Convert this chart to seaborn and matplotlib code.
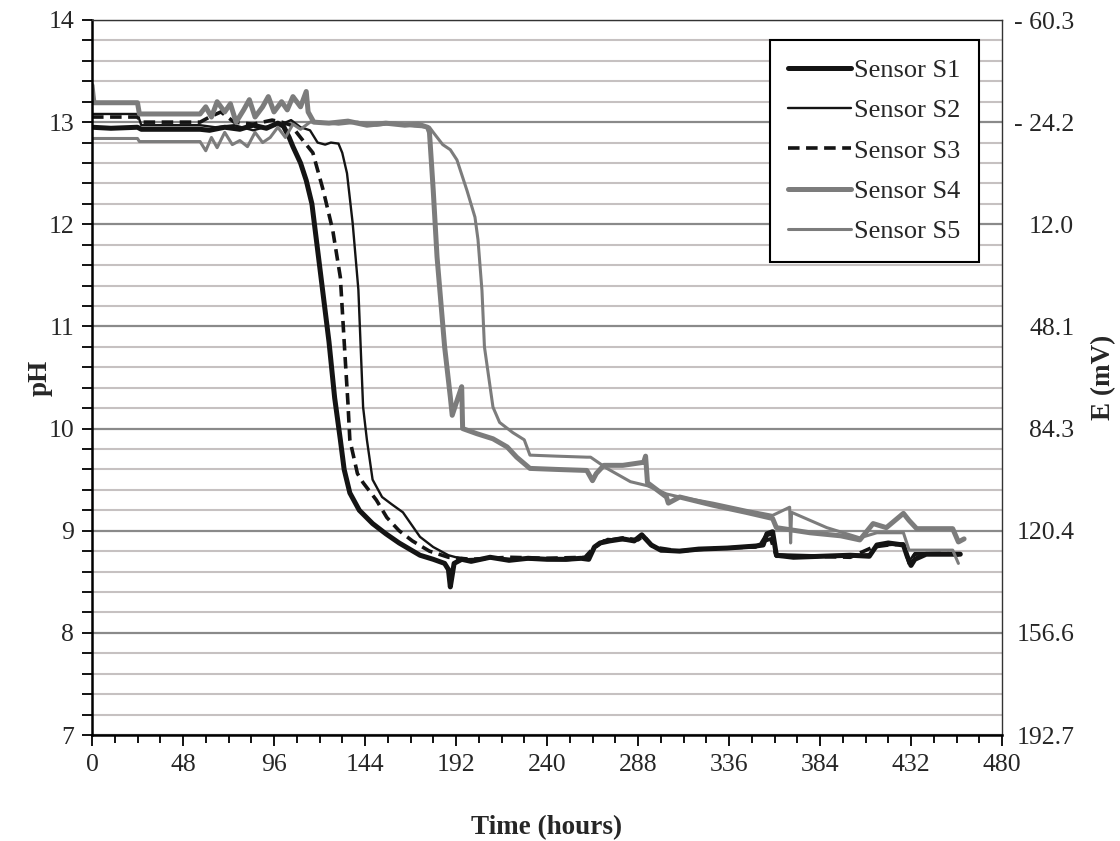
import matplotlib
matplotlib.use('Agg')
import matplotlib.pyplot as plt
from matplotlib.ticker import MultipleLocator
import seaborn as sns

# time (hours) / pH readings per sensor
t_s1 = [0, 10, 24, 26, 40, 57, 62, 70, 78, 85, 92, 98, 101, 104, 106, 110, 113, 116, 119, 122,
        125, 128, 131, 133, 136, 141, 148, 155, 162, 173, 180, 186, 188, 189, 191, 195, 200, 210, 220, 230,
        240, 250, 258, 262, 265, 268, 273, 280, 286, 290, 292, 295, 300, 310, 320, 335, 350, 354, 356, 359,
        361, 370, 385, 400, 410, 414, 420, 428, 430, 432, 434, 440, 450, 458]
ph_s1 = [12.95, 12.94, 12.95, 12.93, 12.93, 12.93, 12.92, 12.95, 12.93, 12.97, 12.94, 12.99, 12.96, 12.85, 12.76, 12.6, 12.43, 12.2, 11.75, 11.3,
         10.85, 10.3, 9.89, 9.6, 9.37, 9.2, 9.07, 8.97, 8.88, 8.76, 8.72, 8.68, 8.62, 8.45, 8.68, 8.72, 8.7, 8.74, 8.71, 8.73,
         8.72, 8.72, 8.73, 8.72, 8.84, 8.88, 8.9, 8.92, 8.9, 8.96, 8.92, 8.86, 8.81, 8.8, 8.82, 8.83, 8.85, 8.86, 8.97, 8.99,
         8.76, 8.74, 8.75, 8.76, 8.75, 8.86, 8.88, 8.86, 8.75, 8.66, 8.72, 8.77, 8.77, 8.77]

t_s2 = [0, 24, 26, 57, 65, 75, 85, 95, 100, 105, 110, 115, 119, 123, 126, 130, 132, 134.5, 137.5, 140.5,
        143, 145, 148, 153, 158, 164, 173, 180, 188, 196, 210, 230, 250, 262, 266, 272, 285, 290, 293, 300,
        320, 340, 352, 355, 359, 361, 380, 400, 410, 414, 428, 431, 434, 445, 458]
ph_s2 = [13.08, 13.08, 12.97, 12.97, 12.95, 12.97, 12.92, 12.97, 12.98, 13.02, 12.95, 12.92, 12.8, 12.78, 12.8, 12.79, 12.7, 12.5, 12.01, 11.36,
         10.21, 9.89, 9.5, 9.33, 9.26, 9.18, 8.94, 8.84, 8.76, 8.72, 8.73, 8.72, 8.71, 8.73, 8.86, 8.92, 8.9, 8.94, 8.9, 8.8,
         8.82, 8.84, 8.86, 8.95, 8.96, 8.77, 8.76, 8.76, 8.77, 8.85, 8.87, 8.7, 8.78, 8.78, 8.77]

t_s3 = [0, 24, 26, 57, 62, 68, 75, 85, 95, 100, 105, 110, 116.5, 122, 127, 131, 133.5, 135, 136, 140,
        143, 150, 155.5, 162, 169, 178, 188, 200, 220, 240, 260, 264, 270, 280, 288, 291, 296, 310, 330, 350,
        355, 358, 361, 380, 400, 412, 420, 428, 431, 434, 450, 458]
ph_s3 = [13.05, 13.05, 13.0, 13.0, 13.05, 13.1, 13.0, 12.98, 13.02, 13.0, 12.97, 12.85, 12.7, 12.33, 11.94, 11.48, 10.7, 10.25, 9.89, 9.56,
         9.47, 9.3, 9.13, 9.0, 8.9, 8.8, 8.74, 8.72, 8.74, 8.73, 8.74, 8.82, 8.9, 8.93, 8.91, 8.95, 8.84, 8.8, 8.83, 8.84,
         8.9, 8.92, 8.75, 8.75, 8.74, 8.84, 8.86, 8.87, 8.68, 8.77, 8.78, 8.76]

t_s4 = [0, 1, 24, 25, 57, 60, 63, 66, 70, 73, 76, 80, 83, 86, 90, 93, 96, 100, 103, 106,
        110, 113, 114, 117, 125, 135, 145, 155, 165, 172, 177, 178, 180, 182, 183.5, 186, 189, 190, 193, 195,
        195.5, 203, 211.5, 219, 224, 231, 245, 261, 264, 266, 270, 280, 291, 292, 293, 303, 304, 310, 327.5, 345,
        359, 361, 378.7, 395, 405, 412, 419, 428, 431, 435, 454, 457, 460]
ph_s4 = [13.36, 13.19, 13.19, 13.08, 13.08, 13.15, 13.05, 13.2, 13.1, 13.18, 13.0, 13.12, 13.22, 13.05, 13.15, 13.25, 13.1, 13.2, 13.12, 13.25,
         13.15, 13.3, 13.1, 13.0, 12.99, 13.01, 12.97, 12.99, 12.97, 12.98, 12.95, 12.9, 12.33, 11.68, 11.35, 10.8, 10.31, 10.13, 10.3, 10.41,
         10.0, 9.95, 9.9, 9.82, 9.72, 9.61, 9.6, 9.59, 9.49, 9.56, 9.64, 9.64, 9.67, 9.73, 9.47, 9.33, 9.27, 9.33, 9.25, 9.18,
         9.12, 9.03, 8.98, 8.95, 8.91, 9.07, 9.03, 9.17, 9.1, 9.02, 9.02, 8.89, 8.92]

t_s5 = [0, 24, 25, 57, 60, 63, 66, 70, 74, 78, 82, 86, 90, 94, 98, 102, 106, 110, 115, 120,
        130, 140, 150, 160, 170, 178, 180, 185, 189, 192.5, 197.8, 202, 203.6, 205.7, 207, 211.5, 215, 222, 228, 231,
        245, 261, 263, 271.6, 284, 293, 303, 310, 327.5, 345, 359, 368, 368.5, 369, 387.6, 405, 414, 428, 431, 454,
        457]
ph_s5 = [12.84, 12.84, 12.81, 12.81, 12.72, 12.85, 12.75, 12.9, 12.78, 12.82, 12.76, 12.9, 12.8, 12.85, 12.95, 12.85, 12.98, 12.93, 13.0, 13.0,
         12.98, 13.0, 12.97, 12.99, 12.96, 12.95, 12.9, 12.78, 12.73, 12.63, 12.33, 12.07, 11.85, 11.35, 10.8, 10.21, 10.06, 9.96, 9.89, 9.74,
         9.73, 9.72, 9.72, 9.61, 9.48, 9.44, 9.36, 9.33, 9.27, 9.2, 9.15, 9.23, 8.88, 9.18, 9.03, 8.93, 8.98, 8.98, 8.81, 8.81,
         8.68]

sensor_names = ['Sensor S1', 'Sensor S2', 'Sensor S3', 'Sensor S4', 'Sensor S5']
x_ticks = [0, 48, 96, 144, 192, 240, 288, 336, 384, 432, 480]
ph_ticks = [7, 8, 9, 10, 11, 12, 13, 14]
mv_labels = ['192.7', '156.6', '120.4', '84.3', '48.1', '12.0', '- 24.2', '- 60.3']

sns.set_style('white')
plt.rcParams['font.family'] = ['Liberation Serif', 'DejaVu Serif']

fig = plt.figure(figsize=(11.2, 8.41), dpi=100)
ax = fig.add_axes([92/1120, 106/841, 910/1120, 715/841])

black = '#141414'
grey = '#7c7c7c'
styles = [dict(color=black, lw=3.6, ls='-'),
          dict(color=black, lw=1.7, ls='-'),
          dict(color=black, lw=2.6, ls=(0, (3.2, 1.8))),
          dict(color=grey, lw=3.6, ls='-'),
          dict(color=grey, lw=2.2, ls='-')]
series = [(t_s1, ph_s1), (t_s2, ph_s2), (t_s3, ph_s3), (t_s4, ph_s4), (t_s5, ph_s5)]

for (t, ph), name, st in zip(series, sensor_names, styles):
    sns.lineplot(x=t, y=ph, sort=False, estimator=None, ax=ax, label=name,
                 color=st['color'], linewidth=st['lw'], linestyle=st['ls'])

ax.set_xlim(0, 480)
ax.set_ylim(7, 14)
ax.set_xticks(x_ticks)
ax.set_yticks(ph_ticks)
ax.xaxis.set_minor_locator(MultipleLocator(12))
ax.yaxis.set_minor_locator(MultipleLocator(0.2))
ax.tick_params(axis='both', which='both', direction='out', color='black', labelsize=18.5, pad=6)
ax.tick_params(axis='x', which='major', length=8, width=1.3, bottom=True)
ax.tick_params(axis='x', which='minor', length=6, width=1.3, bottom=True)
ax.tick_params(axis='y', which='major', length=7, width=1.3, left=True)
ax.tick_params(axis='y', which='minor', length=7, width=1.3, left=True)
ax.set_axisbelow(True)
ax.grid(False)
ax.grid(which='minor', axis='y', color='#c6c1c1', lw=1.5)
ax.grid(which='major', axis='y', color='#8a8a8a', lw=1.6)

for side in ['left', 'bottom']:
    ax.spines[side].set_color('black')
    ax.spines[side].set_linewidth(1.8)
for side in ['top', 'right']:
    ax.spines[side].set_color('#333333')
    ax.spines[side].set_linewidth(1.0)

ax.set_xlabel('Time (hours)', fontsize=19.5, fontweight='bold')
ax.set_ylabel('pH', fontsize=19.5, fontweight='bold')
ax.xaxis.set_label_coords(0.5, -0.112)
ax.yaxis.set_label_coords(-0.043, 0.5)

leg = ax.legend(loc='upper right', bbox_to_anchor=(0.9747, 0.972), borderaxespad=0,
                fontsize=19, frameon=True, fancybox=False, framealpha=1,
                edgecolor='black', handlelength=2.4, handletextpad=0.1,
                labelspacing=0.64, borderpad=0.7)
leg.get_frame().set_linewidth(1.5)

ax2 = ax.twinx()
ax2.set_ylim(7, 14)
ax2.set_yticks(ph_ticks)
ax2.set_yticklabels(mv_labels, ha='right')
ax2.tick_params(axis='y', length=0, labelsize=18.5, pad=52)
ax2.grid(False)
for s in ax2.spines.values():
    s.set_visible(False)
ax2.set_ylabel('E (mV)', fontsize=19.5, fontweight='bold')
ax2.yaxis.set_label_coords(1.098, 0.5)

fig.savefig('out.png', dpi=100)
